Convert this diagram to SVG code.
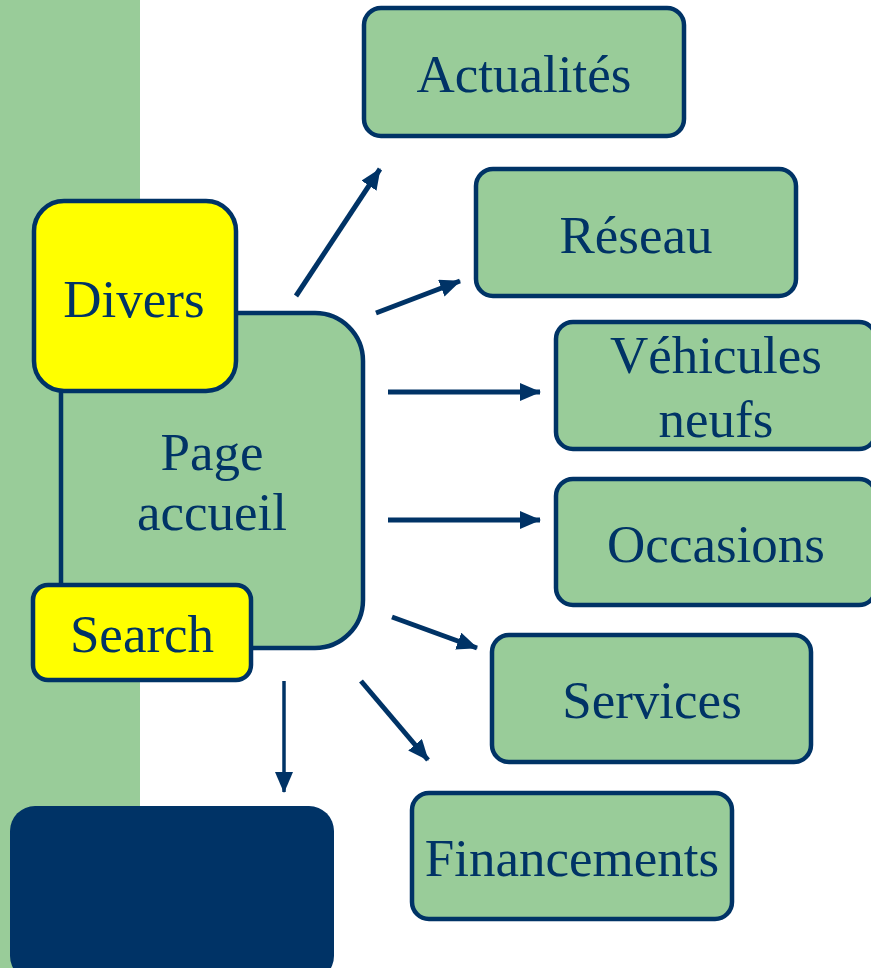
<svg xmlns="http://www.w3.org/2000/svg" width="871" height="968" viewBox="0 0 871 968">
<style>
.box{fill:#99CC99;stroke:#003366;stroke-width:4.5}
.yel{fill:#FFFF00;stroke:#003366;stroke-width:4.5}
.t{font-family:"Liberation Serif","Times New Roman",serif;font-size:53px;fill:#003366;text-anchor:middle}
.c{stroke:#003366;stroke-width:5;fill:none;marker-end:url(#ah)}
</style>
<defs>
<marker id="ah" markerUnits="userSpaceOnUse" markerWidth="22" markerHeight="18" refX="20" refY="9" orient="auto">
<path d="M0,0 L21,9 L0,18 Z" fill="#003366"/>
</marker>
</defs>
<rect x="0" y="0" width="871" height="968" fill="#FFFFFF"/>
<rect x="0" y="0" width="140" height="968" fill="#99CC99"/>
<g id="page-accueil">
<rect class="box" x="61" y="313" width="302" height="335" rx="48"/>
<text class="t" x="212" y="470">Page</text>
<text class="t" x="212" y="530">accueil</text>
</g>
<g id="divers">
<rect class="yel" x="34" y="201" width="202" height="190" rx="30"/>
<text class="t" x="134" y="317">Divers</text>
</g>
<g id="search">
<rect class="yel" x="33" y="585" width="218" height="95" rx="15"/>
<text class="t" x="142" y="652">Search</text>
</g>
<g id="dark">
<rect x="10" y="806" width="324" height="175" rx="25" fill="#003366"/>
</g>
<g id="actualites">
<rect class="box" x="364" y="8" width="320" height="128" rx="17"/>
<text class="t" x="524" y="92">Actualités</text>
</g>
<g id="reseau">
<rect class="box" x="476" y="169" width="320" height="127" rx="17"/>
<text class="t" x="636" y="253">Réseau</text>
</g>
<g id="vehicules">
<rect class="box" x="556" y="322" width="320" height="127" rx="17"/>
<text class="t" x="716" y="373">Véhicules</text>
<text class="t" x="716" y="437">neufs</text>
</g>
<g id="occasions">
<rect class="box" x="556" y="479" width="320" height="126" rx="17"/>
<text class="t" x="716" y="562">Occasions</text>
</g>
<g id="services">
<rect class="box" x="492" y="635" width="319" height="127" rx="17"/>
<text class="t" x="652" y="718">Services</text>
</g>
<g id="financements">
<rect class="box" x="412" y="793" width="320" height="126" rx="17"/>
<text class="t" x="572" y="876">Financements</text>
</g>
<g id="connectors">
<line class="c" x1="296" y1="296" x2="380" y2="169"/>
<line class="c" x1="376" y1="313" x2="460" y2="281"/>
<line class="c" x1="388" y1="392" x2="540" y2="392"/>
<line class="c" x1="388" y1="520" x2="540" y2="520"/>
<line class="c" x1="392" y1="617" x2="477" y2="648"/>
<line class="c" x1="361" y1="681" x2="428" y2="760"/>
<line class="c" x1="284" y1="681" x2="284" y2="792" style="stroke-width:3.5"/>
</g>
</svg>
